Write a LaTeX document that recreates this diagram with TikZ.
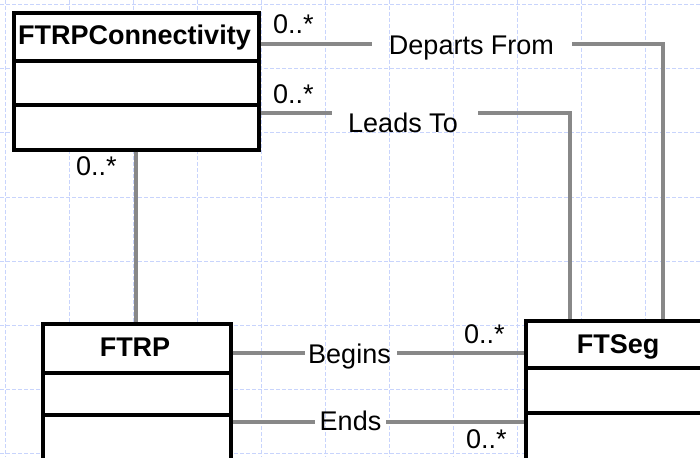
\documentclass[tikz,border=0pt]{standalone}
\usepackage{fontspec}
\setmainfont{Liberation Sans}
\definecolor{gridblue}{RGB}{200,212,252}
\definecolor{assocgray}{RGB}{136,136,136}
\tikzset{
  gridline/.style={draw=gridblue, line width=1pt, dash pattern=on 4pt off 2pt},
  classbox/.style={draw=black, fill=white, line width=3.6pt, rectangle, inner sep=0pt, anchor=north west},
  boxline/.style={draw=black, line width=3.6pt},
  classtitle/.style={font=\fontsize{27}{31}\selectfont\bfseries, inner sep=0pt, anchor=base},
  assoc/.style={draw=assocgray, line width=4pt},
  assoclabel/.style={font=\fontsize{27}{31}\selectfont, inner sep=0pt, anchor=base},
  mult/.style={font=\fontsize{27}{31}\selectfont, inner sep=0pt, anchor=base west}
}
\begin{document}
\begin{tikzpicture}[x=1pt,y=-1pt]
\useasboundingbox (0,0) rectangle (700,457);
\begin{scope}
\clip (0,0) rectangle (700,457);
% background grid
\foreach \i in {0,...,10} {
  \draw[gridline] (5+64*\i,0) -- (5+64*\i,457);
}
\foreach \j in {0,...,7} {
  \draw[gridline] (0,5+64*\j) -- (700,5+64*\j);
}
% classes
\node[classbox, minimum width=245pt, minimum height=137pt] (conn) at (12,11) {};
\draw[boxline] ([yshift=-50pt]conn.north west) -- ([yshift=-50pt]conn.north east);
\draw[boxline] ([yshift=-94pt]conn.north west) -- ([yshift=-94pt]conn.north east);
\node[classtitle] (connT) at (134.5,44.5) {FTRPConnectivity};

\node[classbox, minimum width=188pt, minimum height=160pt] (ftrp) at (41,322) {};
\draw[boxline] ([yshift=-51pt]ftrp.north west) -- ([yshift=-51pt]ftrp.north east);
\draw[boxline] ([yshift=-93pt]ftrp.north west) -- ([yshift=-93pt]ftrp.north east);
\node[classtitle] (ftrpT) at (135,356.5) {FTRP};

\node[classbox, minimum width=190pt, minimum height=160pt] (ftseg) at (524,319) {};
\draw[boxline] ([yshift=-49pt]ftseg.north west) -- ([yshift=-49pt]ftseg.north east);
\draw[boxline] ([yshift=-94pt]ftseg.north west) -- ([yshift=-94pt]ftseg.north east);
\node[classtitle] (ftsegT) at (618,353) {FTSeg};

% Departs From
\coordinate (dfL) at (372,44);
\coordinate (dfR) at (572,44);
\coordinate (dfX) at (663,44);
\draw[assoc] (conn.north east |- dfL) -- (dfL);
\node[assoclabel] (dfLab) at (471.5,55) {Departs From};
\draw[assoc] (dfR) -- (dfX) -- (dfX |- ftseg.north);
\node[mult] (m1) at (273,33.5) {0..*};

% Leads To
\coordinate (ltL) at (332,113);
\coordinate (ltR) at (478,113);
\coordinate (ltX) at (570,113);
\draw[assoc] (conn.north east |- ltL) -- (ltL);
\node[assoclabel] (ltLab) at (403,133) {Leads To};
\draw[assoc] (ltR) -- (ltX) -- (ltX |- ftseg.north);
\node[mult] (m2) at (273,103.5) {0..*};

% FTRPConnectivity -- FTRP
\draw[assoc] (conn.south) -- (conn.south |- ftrp.north);
\node[mult] (m3) at (76,175.5) {0..*};

% Begins
\coordinate (bgL) at (305,353);
\coordinate (bgR) at (397,353);
\draw[assoc] (ftrp.north east |- bgL) -- (bgL);
\node[assoclabel] (bgLab) at (349.5,363) {Begins};
\draw[assoc] (bgR) -- (ftseg.north west |- bgR);
\node[mult] (m4) at (464,343.5) {0..*};

% Ends
\coordinate (enL) at (315,422);
\coordinate (enR) at (386,422);
\draw[assoc] (ftrp.north east |- enL) -- (enL);
\node[assoclabel] (enLab) at (350.5,430.5) {Ends};
\draw[assoc] (enR) -- (ftseg.north west |- enR);
\node[mult] (m5) at (466,448.5) {0..*};
\end{scope}
\end{tikzpicture}
\end{document}
